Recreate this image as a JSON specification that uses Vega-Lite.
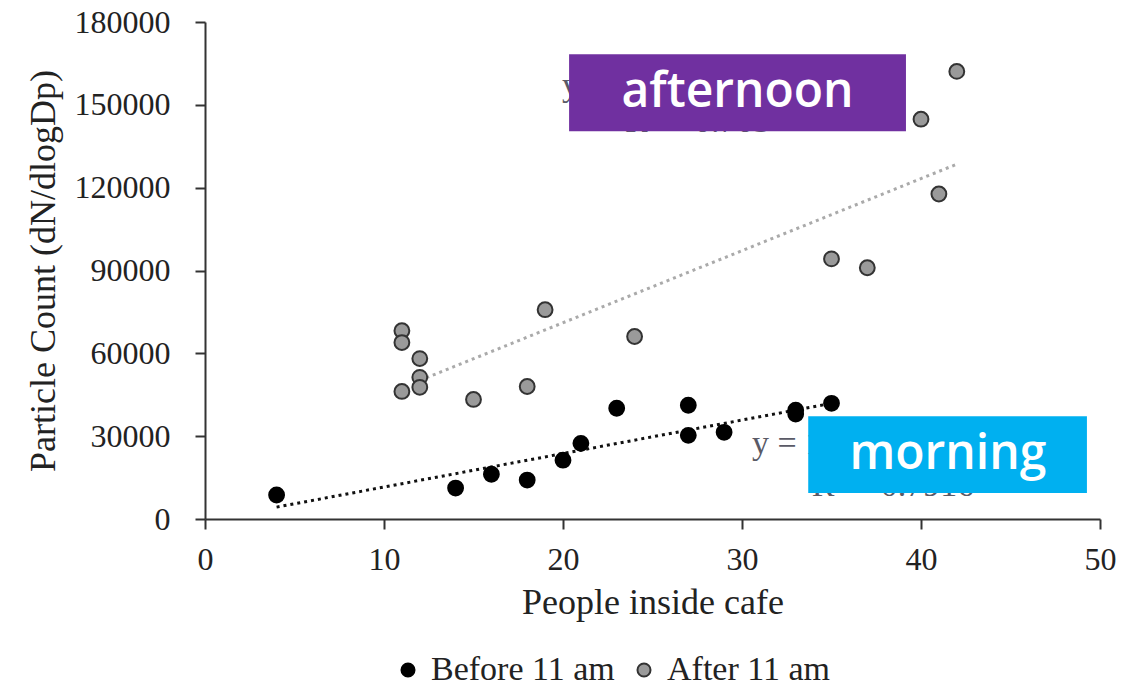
{
  "$schema": "https://vega.github.io/schema/vega-lite/v6.json",
  "width": 895,
  "height": 497,
  "autosize": {"type": "none"},
  "padding": {"left": 205, "top": 22, "right": 34, "bottom": 169},
  "background": "white",
  "config": {
    "view": {"stroke": null},
    "font": "Liberation Serif",
    "axis": {
      "grid": false,
      "domainColor": "#333333",
      "domainWidth": 2,
      "tickColor": "#333333",
      "tickWidth": 2,
      "tickSize": 10,
      "labelFont": "Liberation Serif",
      "labelFontSize": 32,
      "labelColor": "#222222",
      "titleFont": "Liberation Serif",
      "titleFontSize": 36,
      "titleFontWeight": "normal",
      "titleColor": "#222222"
    }
  },
  "datasets": {
    "points": [
      {"people": 4, "count": 8700, "period": "Before 11 am"},
      {"people": 14, "count": 11200, "period": "Before 11 am"},
      {"people": 16, "count": 16200, "period": "Before 11 am"},
      {"people": 18, "count": 14100, "period": "Before 11 am"},
      {"people": 20, "count": 21300, "period": "Before 11 am"},
      {"people": 21, "count": 27400, "period": "Before 11 am"},
      {"people": 23, "count": 40100, "period": "Before 11 am"},
      {"people": 27, "count": 41200, "period": "Before 11 am"},
      {"people": 27, "count": 30300, "period": "Before 11 am"},
      {"people": 29, "count": 31400, "period": "Before 11 am"},
      {"people": 33, "count": 39400, "period": "Before 11 am"},
      {"people": 33, "count": 38000, "period": "Before 11 am"},
      {"people": 35, "count": 41900, "period": "Before 11 am"},
      {"people": 11, "count": 68200, "period": "After 11 am"},
      {"people": 11, "count": 63900, "period": "After 11 am"},
      {"people": 11, "count": 46200, "period": "After 11 am"},
      {"people": 12, "count": 58100, "period": "After 11 am"},
      {"people": 12, "count": 51300, "period": "After 11 am"},
      {"people": 12, "count": 47700, "period": "After 11 am"},
      {"people": 15, "count": 43300, "period": "After 11 am"},
      {"people": 18, "count": 48000, "period": "After 11 am"},
      {"people": 19, "count": 75800, "period": "After 11 am"},
      {"people": 24, "count": 66100, "period": "After 11 am"},
      {"people": 35, "count": 94200, "period": "After 11 am"},
      {"people": 37, "count": 91000, "period": "After 11 am"},
      {"people": 40, "count": 144800, "period": "After 11 am"},
      {"people": 41, "count": 117700, "period": "After 11 am"},
      {"people": 42, "count": 162100, "period": "After 11 am"}
    ],
    "trend": [
      {"people": 4, "count": 4300, "period": "Before 11 am"},
      {"people": 35, "count": 41900, "period": "Before 11 am"},
      {"people": 12, "count": 50200, "period": "After 11 am"},
      {"people": 42, "count": 128500, "period": "After 11 am"}
    ],
    "equations": [
      {"label": "y = 2610x + 18880", "people": 19.94, "count": 157000},
      {"label": "R² = 0.703", "people": 23.46, "count": 143800},
      {"label": "y =  1213x − 550", "people": 30.56, "count": 27000},
      {"label": "R² = 0.7916", "people": 33.9, "count": 12000}
    ],
    "boxes": [
      {"label": "afternoon", "x1": 20.34, "x2": 39.16, "y1": 140400, "y2": 168300, "tx": 29.75, "ty": 154200},
      {"label": "morning", "x1": 33.7, "x2": 49.27, "y1": 9400, "y2": 37200, "tx": 41.5, "ty": 23200}
    ]
  },
  "layer": [
    {
      "data": {"name": "equations"},
      "mark": {"type": "text", "align": "left", "baseline": "middle", "font": "Liberation Serif", "fontSize": 34, "color": "#5a5a66"},
      "encoding": {
        "x": {"field": "people", "type": "quantitative", "scale": {"domain": [0, 50]}},
        "y": {"field": "count", "type": "quantitative", "scale": {"domain": [0, 180000]}},
        "text": {"field": "label"}
      }
    },
    {
      "data": {"name": "trend"},
      "mark": {"type": "line", "strokeWidth": 3, "strokeDash": [3, 4]},
      "encoding": {
        "x": {"field": "people", "type": "quantitative"},
        "y": {"field": "count", "type": "quantitative"},
        "detail": {"field": "period"},
        "color": {"field": "period", "type": "nominal", "scale": {"domain": ["Before 11 am", "After 11 am"], "range": ["#111111", "#aaaaaa"]}, "legend": null}
      }
    },
    {
      "data": {"name": "points"},
      "mark": {"type": "point", "shape": "circle", "filled": true, "size": 220, "strokeWidth": 2, "opacity": 1},
      "encoding": {
        "x": {
          "field": "people", "type": "quantitative",
          "scale": {"domain": [0, 50]},
          "axis": {"values": [0, 10, 20, 30, 40, 50], "title": "People inside cafe", "labelPadding": 15, "titlePadding": 10, "labelFlush": false}
        },
        "y": {
          "field": "count", "type": "quantitative",
          "scale": {"domain": [0, 180000]},
          "axis": {"values": [0, 30000, 60000, 90000, 120000, 150000, 180000], "format": "d", "title": "Particle Count (dN/dlogDp)", "labelPadding": 25, "titlePadding": 12}
        },
        "fill": {
          "field": "period", "type": "nominal", "title": null,
          "scale": {"domain": ["Before 11 am", "After 11 am"], "range": ["#000000", "#9a9a9a"]},
          "legend": {
            "orient": "none", "legendX": 186, "legendY": 631, "direction": "horizontal",
            "labelFont": "Liberation Serif", "labelFontSize": 34, "labelColor": "#222222", "labelLimit": 400,
            "symbolSize": 170, "symbolStrokeWidth": 2, "columnPadding": 12, "labelOffset": 6
          }
        },
        "stroke": {
          "field": "period", "type": "nominal", "title": null,
          "scale": {"domain": ["Before 11 am", "After 11 am"], "range": ["#000000", "#333333"]}
        }
      }
    },
    {
      "data": {"name": "boxes"},
      "mark": {"type": "rect"},
      "encoding": {
        "x": {"field": "x1", "type": "quantitative"},
        "x2": {"field": "x2"},
        "y": {"field": "y1", "type": "quantitative"},
        "y2": {"field": "y2"},
        "color": {"field": "label", "type": "nominal", "scale": {"domain": ["afternoon", "morning"], "range": ["#7030a0", "#00b0f0"]}, "legend": null}
      }
    },
    {
      "data": {"name": "boxes"},
      "mark": {"type": "text", "align": "center", "baseline": "middle", "font": "Open Sans", "fontSize": 48, "fontWeight": 600, "color": "white"},
      "encoding": {
        "x": {"field": "tx", "type": "quantitative"},
        "y": {"field": "ty", "type": "quantitative"},
        "text": {"field": "label"}
      }
    }
  ],
  "resolve": {"scale": {"color": "independent"}}
}
